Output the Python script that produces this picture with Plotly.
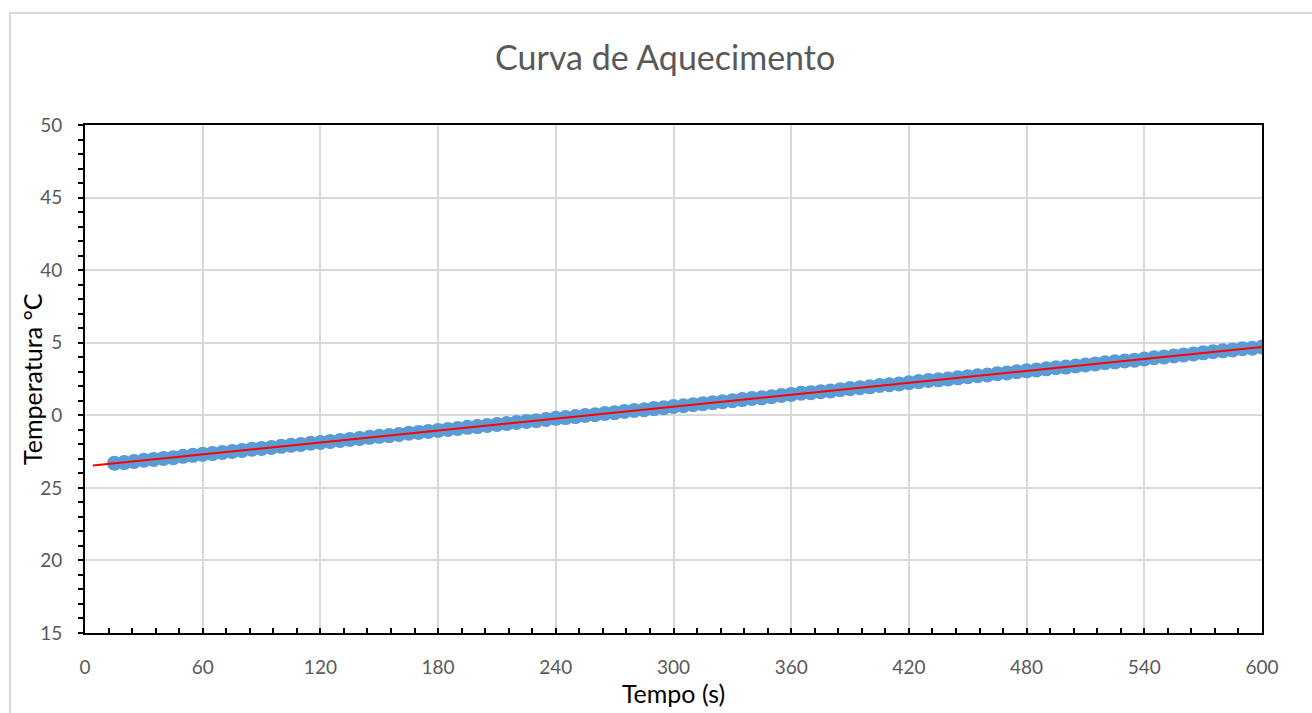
import numpy as np
import plotly.graph_objects as go

# Time (s) and temperature (°C)
tempo = list(range(15, 601, 5))
temperatura = [
    26.70, 26.74, 26.82, 26.90, 26.96, 27.03, 27.08, 27.17, 27.24, 27.31,
    27.36, 27.44, 27.51, 27.57, 27.66, 27.72, 27.78, 27.86, 27.93, 27.99,
    28.07, 28.12, 28.20, 28.26, 28.34, 28.40, 28.48, 28.55, 28.60, 28.68,
    28.76, 28.82, 28.88, 28.96, 29.02, 29.09, 29.17, 29.22, 29.30, 29.37,
    29.43, 29.50, 29.58, 29.63, 29.71, 29.79, 29.84, 29.91, 29.99, 30.04,
    30.12, 30.18, 30.26, 30.33, 30.38, 30.46, 30.52, 30.61, 30.66, 30.73,
    30.80, 30.86, 30.94, 31.00, 31.08, 31.16, 31.20, 31.28, 31.36, 31.44,
    31.52, 31.56, 31.62, 31.68, 31.76, 31.84, 31.90, 31.96, 32.05, 32.10,
    32.16, 32.24, 32.32, 32.40, 32.44, 32.50, 32.58, 32.66, 32.72, 32.78,
    32.86, 32.92, 33.00, 33.06, 33.12, 33.20, 33.28, 33.32, 33.40, 33.46,
    33.54, 33.62, 33.68, 33.74, 33.80, 33.88, 33.96, 34.02, 34.08, 34.16,
    34.22, 34.30, 34.38, 34.44, 34.50, 34.58, 34.62, 34.70,
]

x_ticks = [0, 60, 120, 180, 240, 300, 360, 420, 480, 540, 600]
y_ticks = [15, 20, 25, 30, 35, 40, 45, 50]

# Linear trendline (Excel-style), extended back to t = 4 s
coef = np.polyfit(tempo, temperatura, 1)
trend_x = [4, 600]
trend_y = [float(np.polyval(coef, v)) for v in trend_x]

fig = go.Figure()
fig.add_trace(go.Scatter(
    x=tempo, y=temperatura, mode="markers",
    marker=dict(color="#5b9bd5", size=15, line=dict(width=0)),
    showlegend=False, hoverinfo="x+y"))
fig.add_trace(go.Scatter(
    x=trend_x, y=trend_y, mode="lines",
    line=dict(color="#ff0000", width=2),
    showlegend=False))

gray = "#595959"
FONT = "Lato, Liberation Sans, sans-serif"
fig.update_layout(
    width=1312, height=713,
    margin=dict(l=85, r=50, t=125, b=80),
    paper_bgcolor="white", plot_bgcolor="white",
    font=dict(family=FONT, color=gray, size=19),
    title=dict(text="Curva de Aquecimento", x=0.507, xanchor="center",
               y=1 - 58 / 713, yanchor="middle",
               font=dict(size=34, color=gray)),
    xaxis=dict(
        range=[0, 600], tickvals=x_ticks, ticktext=[str(v) for v in x_ticks],
        showgrid=True, gridcolor="#d9d9d9", gridwidth=1.5,
        showline=True, linecolor="black", linewidth=2, mirror=True,
        ticks="inside", ticklen=5, tickcolor="black", tickwidth=1.5,
        minor=dict(dtick=12, ticks="inside", ticklen=5, tickcolor="black",
                   tickwidth=1.5, showgrid=False),
        ticklabelstandoff=16, zeroline=False,
        tickfont=dict(size=19, color=gray),
        title=dict(text="Tempo (s)", font=dict(size=25, color="black"),
                   standoff=6),
    ),
    yaxis=dict(
        range=[15, 50], tickvals=y_ticks, ticktext=[str(v) for v in y_ticks],
        showgrid=True, gridcolor="#d9d9d9", gridwidth=1.5,
        showline=True, linecolor="black", linewidth=2, mirror=True,
        ticks="outside", ticklen=5, tickcolor="black", tickwidth=1.5,
        minor=dict(dtick=1, ticks="outside", ticklen=5, tickcolor="black",
                   tickwidth=1.5, showgrid=False),
        ticklabelstandoff=12, zeroline=False,
        tickfont=dict(size=19, color=gray),
    ),
)

# Y-axis title drawn over the tick labels (as in the original)
fig.add_annotation(
    text="Temperatura °C", textangle=-90,
    xref="paper", yref="paper", x=(32 - 85) / 1177, y=0.5,
    xanchor="center", yanchor="middle", showarrow=False,
    font=dict(size=25, color="black", family=FONT),
    bgcolor="white", borderpad=3)

# Light outer chart frame
fig.add_shape(type="rect", xref="paper", yref="paper",
              x0=(10 - 85) / 1177, x1=1.2, y0=-0.3, y1=(633 - 13) / 508,
              line=dict(color="#d9d9d9", width=2), layer="below")

fig.write_html("out.html")
